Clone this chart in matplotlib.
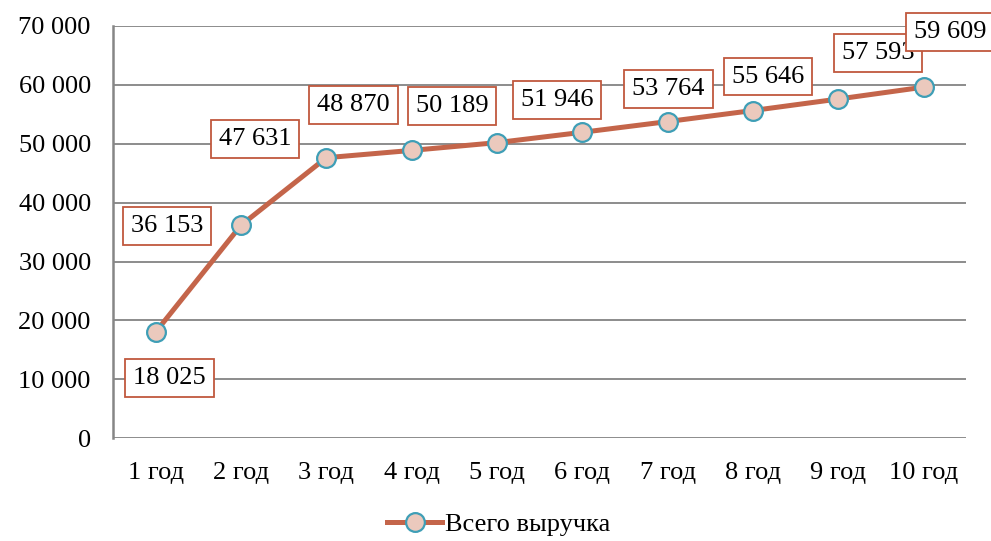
import matplotlib
matplotlib.use('Agg')
import matplotlib.pyplot as plt

# data
years = ['1 год', '2 год', '3 год', '4 год', '5 год',
         '6 год', '7 год', '8 год', '9 год', '10 год']
revenue = [18025, 36153, 47631, 48870, 50189, 51946, 53764, 55646, 57593, 59609]
series_name = 'Всего выручка'

# label placement (pixel offsets from each point)
label_offsets = [(14, -46), (-74, -1), (-71, 19), (-58, 45), (-45, 37),
                 (-25, 32), (1, 33), (15, 34), (40, 46), (27, 55)]

plt.rcParams['font.family'] = ['Liberation Serif', 'DejaVu Serif']
plt.rcParams['font.size'] = 19

fig = plt.figure(figsize=(9.91, 5.41), dpi=100)
ax = fig.add_axes([0.114, 0.190, 0.861, 0.762])

x = list(range(len(years)))
ax.plot(x, revenue, color='#C4654A', linewidth=3.6, marker='o', markersize=13.5,
        markerfacecolor='#EBC9BD', markeredgecolor='#3E9EB6', markeredgewidth=1.6,
        label=series_name, zorder=3)

for xi, v, (dx, dy) in zip(x, revenue, label_offsets):
    ax.annotate(f'{v:,}'.replace(',', ' '), (xi, v), xytext=(dx, dy),
                textcoords='offset pixels', ha='center', va='center',
                bbox=dict(boxstyle='square,pad=0.3', facecolor='white',
                          edgecolor='#C0583E', linewidth=1.3),
                annotation_clip=False, zorder=4)

ax.set_xlim(-0.5, len(years) - 0.5)
ax.set_ylim(0, 70000)
ax.set_yticks(range(0, 70001, 10000))
ax.set_yticklabels([f'{t:,}'.replace(',', ' ') for t in range(0, 70001, 10000)])
ax.set_xticks(x)
ax.set_xticklabels(years)
ax.tick_params(axis='both', length=0)
ax.tick_params(axis='y', pad=16)
ax.tick_params(axis='x', pad=17)

ax.grid(axis='y', color='#8C8C8C', linewidth=1.4)
ax.set_axisbelow(True)
for s in ['top', 'right', 'bottom']:
    ax.spines[s].set_visible(False)
ax.spines['left'].set_color('#868686')
ax.spines['left'].set_linewidth(1.8)

fig.legend(loc='lower center', bbox_to_anchor=(0.503, -0.035), frameon=False,
           handlelength=2.1, handletextpad=0.1)

fig.savefig('out.png', dpi=100)
